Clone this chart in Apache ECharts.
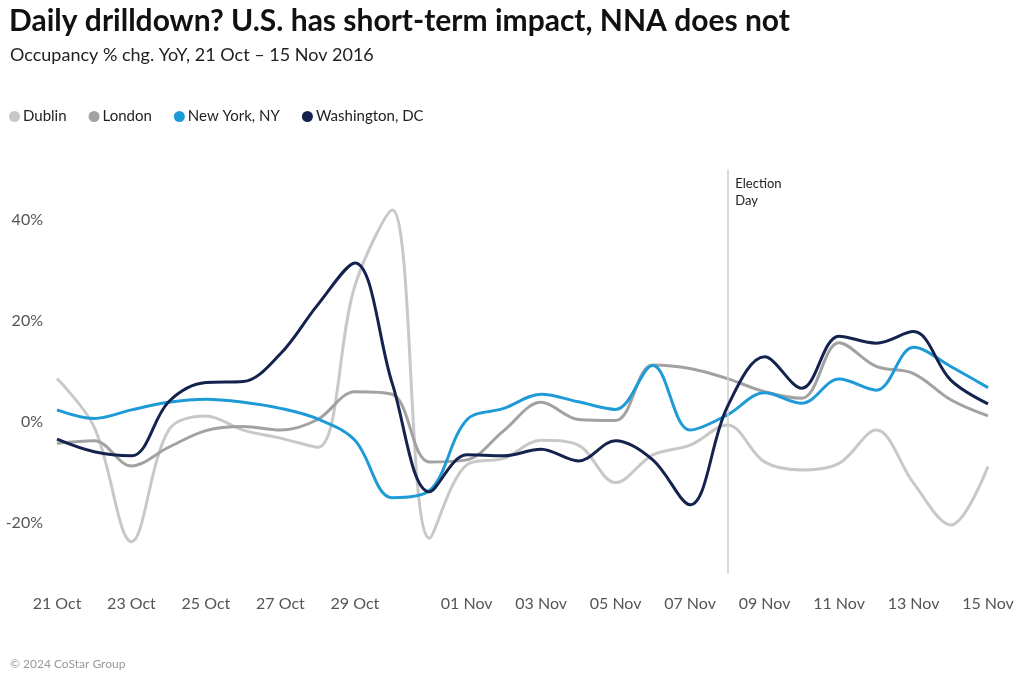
<!DOCTYPE html>
<html><head><meta charset="utf-8">
<script src="https://cdn.jsdelivr.net/npm/echarts@6/dist/echarts.min.js"></script>
<style>html,body{margin:0;padding:0;background:#fff}#c{width:1024px;height:676px}</style>
</head><body><div id="c"></div>
<script>
const categories = ['21 Oct','22 Oct','23 Oct','24 Oct','25 Oct','26 Oct','27 Oct','28 Oct','29 Oct','30 Oct','31 Oct',
  '01 Nov','02 Nov','03 Nov','04 Nov','05 Nov','06 Nov','07 Nov','08 Nov','09 Nov','10 Nov','11 Nov','12 Nov','13 Nov','14 Nov','15 Nov'];
const dublin = [8.6,-1.0,-23.7,-1.6,1.2,-1.6,-3.2,-5.0,27,42,-23,-8.5,-7.2,-3.6,-4.6,-12,-6.5,-4.6,-0.6,-7.9,-9.5,-8.2,-1.6,-12.1,-20.4,-8.8];
const london = [-4.2,-3.7,-8.7,-5.0,-1.7,-0.9,-1.6,0.5,6.0,5.5,-7.9,-7.5,-1.7,3.9,0.5,0.3,11.3,10.6,8.6,6.0,4.7,15.7,11.0,9.6,4.4,1.2];
const newYork = [2.4,0.7,2.4,3.9,4.5,3.9,2.7,0.6,-3.6,-15,-13.6,0.4,2.7,5.5,4.0,2.5,11.2,-1.6,1.4,5.8,3.7,8.5,6.3,14.8,11.0,6.8];
const washington = [-3.4,-5.9,-6.7,4.0,7.8,8.0,13.5,23.2,31.5,7.7,-13.8,-6.5,-6.7,-5.4,-7.7,-3.7,-7.5,-16.4,3.0,12.9,6.7,17.0,15.6,17.9,8.3,3.6];
const xTickLabels = ['21 Oct','23 Oct','25 Oct','27 Oct','29 Oct','01 Nov','03 Nov','05 Nov','07 Nov','09 Nov','11 Nov','13 Nov','15 Nov'];
const yTicks = [-20, 0, 20, 40];
const electionDay = '08 Nov';

const chart = echarts.init(document.getElementById('c'));
const F = 'Lato, "Noto Sans", sans-serif';
function mk(name, data, color, z){
  return {name, type:'line', data, smooth:0.35, symbol:'none', z,
    lineStyle:{width:3, color}, itemStyle:{color}, emphasis:{disabled:true}};
}
const wash = mk('Washington, DC', washington, '#14224e', 5);
wash.markLine = {silent:true, symbol:'none', label:{show:false},
  lineStyle:{color:'#cccccc', width:1.5, type:'solid'}, data:[{xAxis: electionDay}]};
chart.setOption({
  animation:false,
  textStyle:{fontFamily:F},
  title:[{text:'Daily drilldown? U.S. has short-term impact, NNA does not', left:4, top:1,
    textStyle:{fontSize:30, fontWeight:'bold', color:'#111', fontFamily:F}},
    {text:'Occupancy % chg. YoY, 21 Oct – 15 Nov 2016', left:5, top:41,
    textStyle:{fontSize:18, fontWeight:'normal', color:'#222', fontFamily:F}},
    {text:'© 2024 CoStar Group', left:5, top:653, textStyle:{fontSize:12, fontWeight:'normal', color:'#999', fontFamily:F}}],
  legend:{left:4, top:104, icon:'circle', itemWidth:11, itemHeight:11, itemGap:22,
    textStyle:{fontSize:15, color:'#222', fontFamily:F, padding:[0,0,0,-2]},
    data:['Dublin','London','New York, NY','Washington, DC']},
  grid:{left:57, right:36, top:169.5, bottom:102.5, containLabel:false},
  xAxis:{type:'category', data:categories, boundaryGap:false,
    axisLine:{show:false}, axisTick:{show:false}, splitLine:{show:false},
    axisLabel:{fontSize:16, color:'#555', margin:22,
      interval:(i,v)=> xTickLabels.indexOf(v)>=0}},
  yAxis:{type:'value', min:-30, max:50, interval:10,
    axisLine:{show:false}, axisTick:{show:false}, splitLine:{show:false},
    axisLabel:{fontSize:16, color:'#555', margin:14,
      formatter:v=> yTicks.indexOf(v)>=0 ? v+'%' : ''}},
  series:[mk('Dublin', dublin, '#c8c8c8', 2), mk('London', london, '#a2a2a2', 3), mk('New York, NY', newYork, '#1e9bd7', 4), wash]
});
const px = chart.convertToPixel({xAxisIndex:0}, electionDay);
chart.setOption({graphic:[{type:'text', left:px+8, top:175,
  style:{text:'Election\nDay', font:'13px '+F, fill:'#222', lineHeight:17}}]});
</script></body></html>
